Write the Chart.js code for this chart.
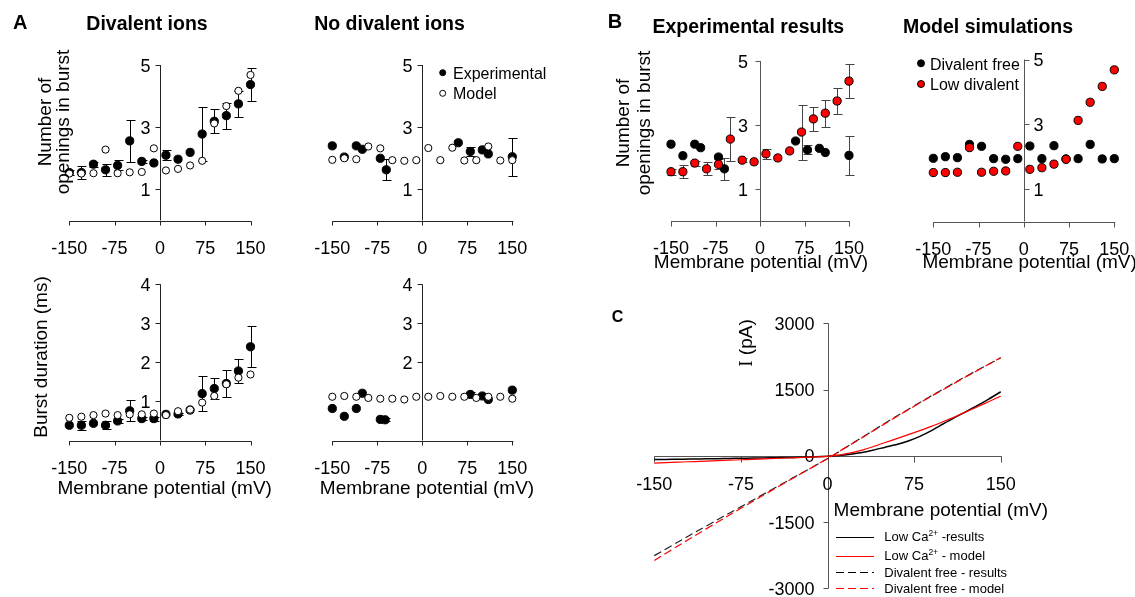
<!DOCTYPE html>
<html>
<head>
<meta charset="utf-8">
<script src="https://cdn.jsdelivr.net/npm/chart.js@4.4.1/dist/chart.umd.min.js"></script>
<style>
  body { margin: 0; background: #fff; }
  #wrap { position: relative; width: 1135px; height: 597px; overflow: hidden; }
  #wrap canvas { position: absolute; left: 0; top: 0; }
</style>
</head>
<body>
<div id="wrap">
  <canvas id="aOpen" width="1135" height="597"></canvas>
  <canvas id="aOpenFree" width="1135" height="597"></canvas>
  <canvas id="aBurst" width="1135" height="597"></canvas>
  <canvas id="aBurstFree" width="1135" height="597"></canvas>
  <canvas id="bExp" width="1135" height="597"></canvas>
  <canvas id="bModel" width="1135" height="597"></canvas>
  <canvas id="cIV" width="1135" height="597"></canvas>
</div>
<script>
// ---- data ----
const voltages = [-150, -130, -110, -90, -70, -50, -30, -10, 10, 30, 50, 70, 90, 110, 130, 150];
const voltTicks = [-150, -75, 0, 75, 150];
const openTicks = [1, 3, 5];
const burstTicks = [1, 2, 3, 4];
const burstTicksFree = [2, 3, 4];
const currentTicks = [-3000, -1500, 0, 1500, 3000];

// low divalent (divalent ions)
const lowDivOpenExp = [1.54, 1.54, 1.81, 1.63, 1.77, 2.56, 1.90, 1.85, 2.10, 1.97, 2.19, 2.78, 3.19, 3.37, 3.75, 4.37];
const lowDivOpenErr = [0.09, 0.2, 0.08, 0.2, 0.16, 0.68, 0.06, 0, 0.16, 0, 0, 0.86, 0.38, 0.42, 0.42, 0.54];
const lowDivOpenModel = [1.51, 1.51, 1.52, 2.28, 1.52, 1.55, 1.56, 2.32, 1.61, 1.66, 1.77, 1.92, 3.12, 3.68, 4.17, 4.68];
const lowDivBurstExp = [0.39, 0.39, 0.44, 0.39, 0.50, 0.76, 0.56, 0.56, 0.67, 0.68, 0.78, 1.20, 1.33, 1.46, 1.78, 2.40];
const lowDivBurstErr = [0, 0.12, 0, 0.1, 0.04, 0.27, 0.03, 0.05, 0, 0.03, 0, 0.45, 0.27, 0.34, 0.3, 0.52];
const lowDivBurstModel = [0.58, 0.61, 0.65, 0.69, 0.65, 0.67, 0.67, 0.69, 0.65, 0.75, 0.79, 0.97, 1.14, 1.44, 1.61, 1.69];

// divalent free (no divalent ions)
const freeVoltages = [-150, -130, -110, -100, -70, -60, 60, 80, 100, 110, 150];
const freeOpenExp = [2.40, 2.04, 2.40, 2.29, 2.00, 1.63, 2.50, 2.22, 2.27, 2.14, 2.05];
const freeOpenErr = [0, 0, 0, 0, 0, 0.34, 0, 0.14, 0, 0, 0.61];
const freeOpenModel = [1.95, 2.0, 1.97, 2.38, 2.32, 1.94, 1.92, 1.94, 2.33, 1.94, 2.34, 1.93, 1.94, 2.38, 1.93, 1.94];
const freeBurstVoltages = [-150, -130, -110, -100, -70, -62, 80, 100, 110, 150];
const freeBurstExp = [0.82, 0.62, 0.82, 1.21, 0.54, 0.53, 1.18, 1.14, 1.05, 1.29];
const freeBurstErr = [0, 0, 0, 0, 0, 0.04, 0.07, 0.05, 0, 0];
const freeBurstModel = [1.12, 1.14, 1.12, 1.09, 1.07, 1.07, 1.05, 1.12, 1.12, 1.14, 1.12, 1.12, 1.09, 1.12, 1.12, 1.07];

// I-V curves
const ivVoltages = [-150, -140, -130, -120, -110, -100, -90, -80, -70, -60, -50, -40, -30, -20, -10, 0,
  10, 20, 30, 40, 50, 60, 70, 80, 90, 100, 110, 120, 130, 140, 150];
const lowCaResults = [-85, -82, -78, -74, -70, -66, -62, -58, -54, -50, -46, -41, -36, -30, -22, -12,
  5, 35, 75, 130, 195, 255, 335, 440, 570, 720, 865, 1000, 1140, 1290, 1450];
const lowCaModel = [-165, -155, -145, -135, -125, -115, -105, -95, -85, -75, -65, -55, -45, -35, -25, -12,
  15, 65, 130, 210, 300, 390, 480, 570, 665, 770, 880, 995, 1110, 1230, 1350];
const ivCoarse = [-150, -120, -90, -60, -30, 0, 30, 60, 90, 120, 150];
const freeResults = [-2260, -1810, -1370, -935, -500, -65, 420, 900, 1360, 1800, 2220];
const freeModel = [-2370, -1890, -1420, -960, -510, -60, 410, 890, 1350, 1790, 2220];

// ---- drawing helpers ----
const W = 1135, H = 597;
const FONT = '"Liberation Sans", Arial, sans-serif';
const TITLE = 'bold 19.5px ' + FONT;
const LBL = '19px ' + FONT;
const TICK = '18px ' + FONT;
const crisp = v => Math.round(v) + 0.5;

function points(xs, ys) { return xs.map((v, i) => ({ x: v, y: ys[i] })); }

const filled = { pointRadius: 4.1, pointBackgroundColor: '#000', pointBorderColor: '#000', pointBorderWidth: 1 };
const hollow = { pointRadius: 3.6, pointBackgroundColor: '#fff', pointBorderColor: '#000', pointBorderWidth: 1 };
const redDot = { pointRadius: 4.1, pointBackgroundColor: '#ff0000', pointBorderColor: '#000', pointBorderWidth: 1 };

function dots(xs, ys, style, errs) {
  return Object.assign({ data: points(xs, ys), showLine: false, clip: false, errorBars: errs }, style);
}
function curve(xs, ys, color, dash, width) {
  return { data: points(xs, ys), showLine: true, pointRadius: 0, borderColor: color, borderWidth: width || 1,
    borderDash: dash || [], clip: false, tension: 0.2 };
}

function drawText(ctx, it) {
  ctx.save();
  ctx.translate(it.x, it.y);
  if (it.rot) ctx.rotate(-Math.PI / 2);
  const parts = it.parts || [{ t: it.t, font: it.font }];
  const widths = parts.map(p => { ctx.font = p.font; return ctx.measureText(p.t).width; });
  const total = widths.reduce((a, b) => a + b, 0);
  let cx = it.align === 'center' ? -total / 2 : 0;
  ctx.fillStyle = '#000';
  ctx.textAlign = 'left';
  ctx.textBaseline = 'alphabetic';
  parts.forEach((p, i) => { ctx.font = p.font; ctx.fillText(p.t, cx, p.dy || 0); cx += widths[i]; });
  ctx.restore();
}

function axesPlugin(o) {
  return {
    id: 'axes',
    beforeDatasetsDraw(chart) {
      const ctx = chart.ctx, sx = chart.scales.x, sy = chart.scales.y;
      const ax = crisp(sx.getPixelForValue(0));
      const ay = crisp(sy.getPixelForValue(o.xAt));
      const dir = o.right ? 1 : -1;
      ctx.save();
      ctx.strokeStyle = o.color;
      ctx.lineWidth = 1;
      ctx.beginPath();
      ctx.moveTo(sx.getPixelForValue(sx.min), ay);
      ctx.lineTo(sx.getPixelForValue(sx.max) + 1, ay);
      ctx.moveTo(ax, sy.getPixelForValue(sy.max));
      ctx.lineTo(ax, sy.getPixelForValue(sy.min));
      o.xTicks.forEach(v => {
        const px = crisp(sx.getPixelForValue(v));
        ctx.moveTo(px, ay); ctx.lineTo(px, ay + o.tick);
      });
      o.yTicks.forEach(v => {
        const py = crisp(sy.getPixelForValue(v));
        ctx.moveTo(ax, py); ctx.lineTo(ax + dir * 5, py);
      });
      ctx.stroke();
      ctx.fillStyle = '#000';
      ctx.font = TICK;
      ctx.textBaseline = 'alphabetic';
      ctx.textAlign = 'center';
      o.xTicks.forEach(v => ctx.fillText(String(v), sx.getPixelForValue(v), ay + o.xDy));
      ctx.textAlign = o.right ? 'left' : 'right';
      o.yTicks.forEach(v => ctx.fillText(String(v), ax + dir * o.yGap, sy.getPixelForValue(v) + 6.5));
      ctx.restore();
    }
  };
}

function errorPlugin(color) {
  return {
    id: 'errorBars',
    beforeDatasetsDraw(chart) {
      const ctx = chart.ctx, sx = chart.scales.x, sy = chart.scales.y;
      ctx.save();
      ctx.strokeStyle = color;
      ctx.lineWidth = 1;
      chart.data.datasets.forEach(ds => {
        if (!ds.errorBars) return;
        ds.data.forEach((p, i) => {
          const e = ds.errorBars[i];
          if (!e) return;
          const px = crisp(sx.getPixelForValue(p.x));
          const top = crisp(sy.getPixelForValue(p.y + e));
          const bot = crisp(sy.getPixelForValue(p.y - e));
          ctx.beginPath();
          ctx.moveTo(px, top); ctx.lineTo(px, bot);
          ctx.moveTo(px - 4, top); ctx.lineTo(px + 5, top);
          ctx.moveTo(px - 4, bot); ctx.lineTo(px + 5, bot);
          ctx.stroke();
        });
      });
      ctx.restore();
    }
  };
}

function notesPlugin(n) {
  return {
    id: 'notes',
    afterDraw(chart) {
      const ctx = chart.ctx;
      (n.markers || []).forEach(m => {
        ctx.save();
        ctx.beginPath();
        ctx.arc(m.x, m.y, m.r, 0, Math.PI * 2);
        ctx.fillStyle = m.fill;
        ctx.fill();
        ctx.strokeStyle = '#000';
        ctx.lineWidth = 1;
        ctx.stroke();
        ctx.restore();
      });
      (n.lines || []).forEach(l => {
        ctx.save();
        ctx.strokeStyle = l.color;
        ctx.lineWidth = 1;
        ctx.setLineDash(l.dash || []);
        ctx.beginPath();
        ctx.moveTo(l.x1, crisp(l.y));
        ctx.lineTo(l.x2, crisp(l.y));
        ctx.stroke();
        ctx.restore();
      });
      (n.texts || []).forEach(t => drawText(ctx, t));
    }
  };
}

function makePanel(id, area, xRange, yRange, datasets, axes, errColor, notes) {
  return new Chart(document.getElementById(id), {
    type: 'scatter',
    data: { datasets },
    options: {
      responsive: false,
      maintainAspectRatio: false,
      animation: false,
      events: [],
      layout: { autoPadding: false, padding: { left: area[0], top: area[1], right: W - area[2], bottom: H - area[3] } },
      scales: {
        x: { type: 'linear', display: false, min: xRange[0], max: xRange[1] },
        y: { type: 'linear', display: false, min: yRange[0], max: yRange[1] }
      },
      plugins: { legend: { display: false }, tooltip: { enabled: false } }
    },
    plugins: [axesPlugin(axes), errorPlugin(errColor), notesPlugin(notes)]
  });
}

const axA = { color: '#222', xAt: 0, tick: 4, xDy: 32, yGap: 10 };
const axB = { color: '#555', xAt: 0, tick: 5, xDy: 32, yGap: 12.5 };

// ---- panel A ----
makePanel('aOpen', [69.3, 65, 250.5, 220.5], [-150, 150], [0, 5], [
  dots(voltages, lowDivOpenModel, hollow),
  dots(voltages, lowDivOpenExp, filled, lowDivOpenErr)
], Object.assign({ xTicks: voltTicks, yTicks: openTicks }, axA), '#000', {
  texts: [
    { t: 'A', font: 'bold 20px ' + FONT, x: 13, y: 29 },
    { t: 'Divalent ions', font: TITLE, x: 147, y: 30, align: 'center' },
    { t: 'Number of', font: LBL, x: 50.5, y: 122, align: 'center', rot: true },
    { t: 'openings in burst', font: LBL, x: 68.5, y: 122, align: 'center', rot: true }
  ]
});

makePanel('aOpenFree', [332.3, 65, 512.3, 220.5], [-150, 150], [0, 5], [
  dots(voltages, freeOpenModel, hollow),
  dots(freeVoltages, freeOpenExp, filled, freeOpenErr)
], Object.assign({ xTicks: voltTicks, yTicks: openTicks }, axA), '#000', {
  markers: [
    { x: 442.7, y: 72.7, r: 3, fill: '#000' },
    { x: 442.7, y: 93.3, r: 3, fill: '#fff' }
  ],
  texts: [
    { t: 'No divalent ions', font: TITLE, x: 389.5, y: 30, align: 'center' },
    { t: 'Experimental', font: '16px ' + FONT, x: 453, y: 78.5 },
    { t: 'Model', font: '16px ' + FONT, x: 453, y: 99 }
  ]
});

makePanel('aBurst', [69.3, 284.3, 250.5, 440.5], [-150, 150], [0, 4], [
  dots(voltages, lowDivBurstModel, hollow),
  dots(voltages, lowDivBurstExp, filled, lowDivBurstErr)
], Object.assign({ xTicks: voltTicks, yTicks: burstTicks }, axA), '#000', {
  texts: [
    { t: 'Burst duration (ms)', font: LBL, x: 47, y: 357, align: 'center', rot: true },
    { t: 'Membrane potential (mV)', font: LBL, x: 164.7, y: 494.3, align: 'center' }
  ]
});

makePanel('aBurstFree', [332.3, 284.3, 512.3, 440.5], [-150, 150], [0, 4], [
  dots(voltages, freeBurstModel, hollow),
  dots(freeBurstVoltages, freeBurstExp, filled, freeBurstErr)
], Object.assign({ xTicks: voltTicks, yTicks: burstTicksFree }, axA), '#000', {
  texts: [
    { t: 'Membrane potential (mV)', font: LBL, x: 427, y: 494.3, align: 'center' }
  ]
});

// ---- panel B ----
makePanel('bExp', [671, 61, 849, 221], [-150, 150], [0, 5], [
  dots(voltages, lowDivOpenExp, redDot, lowDivOpenErr),
  dots(freeVoltages, freeOpenExp, filled, freeOpenErr)
], Object.assign({ xTicks: voltTicks, yTicks: openTicks }, axB), '#444', {
  texts: [
    { t: 'B', font: 'bold 20px ' + FONT, x: 607.7, y: 28.3 },
    { t: 'Experimental results', font: TITLE, x: 748.3, y: 33, align: 'center' },
    { t: 'Number of', font: LBL, x: 628.6, y: 123, align: 'center', rot: true },
    { t: 'openings in burst', font: LBL, x: 650.3, y: 123, align: 'center', rot: true },
    { t: 'Membrane potential (mV)', font: LBL, x: 761, y: 267.5, align: 'center' }
  ]
});

makePanel('bModel', [933.3, 59.5, 1114.3, 221.5], [-150, 150], [0, 5], [
  dots(voltages, lowDivOpenModel, redDot),
  dots(voltages, freeOpenModel, filled)
], Object.assign({ xTicks: voltTicks, yTicks: openTicks, right: true }, axB, { yGap: 9 }), '#444', {
  markers: [
    { x: 921, y: 63.3, r: 3.5, fill: '#000' },
    { x: 921, y: 84, r: 3.5, fill: '#ff0000' }
  ],
  texts: [
    { t: 'Model simulations', font: TITLE, x: 988, y: 33, align: 'center' },
    { t: 'Divalent free', font: '16px ' + FONT, x: 930, y: 69.5 },
    { t: 'Low divalent', font: '16px ' + FONT, x: 930, y: 90 },
    { t: 'Membrane potential (mV)', font: LBL, x: 1029.6, y: 267.5, align: 'center' }
  ]
});

// ---- panel C ----
const LEG = '13px ' + FONT;
const SUP = '8.5px ' + FONT;
makePanel('cIV', [654.3, 323.3, 1000.7, 588.3], [-150, 150], [-3000, 3000], [
  curve(ivVoltages, lowCaModel, '#ff0000', [], 1.2),
  curve(ivCoarse, freeModel, '#ff0000', [8, 4], 1.2),
  curve(ivVoltages, lowCaResults, '#000', [], 1.5),
  curve(ivCoarse, freeResults, '#222', [8, 4], 1.2)
], { color: '#555', xAt: 0, tick: 6, xDy: 33.3, yGap: 14, xTicks: voltTicks, yTicks: currentTicks }, '#444', {
  lines: [
    { x1: 836, x2: 874, y: 536.7, color: '#000' },
    { x1: 836, x2: 874, y: 555.7, color: '#ff0000' },
    { x1: 836, x2: 874, y: 572.3, color: '#000', dash: [8, 4] },
    { x1: 836, x2: 874, y: 588.3, color: '#ff0000', dash: [8, 4] }
  ],
  texts: [
    { t: 'C', font: 'bold 16px ' + FONT, x: 611.7, y: 321.7 },
    { parts: [{ t: 'I', font: '19px "Liberation Serif", serif' }, { t: ' (pA)', font: LBL }], x: 751.6, y: 343, align: 'center', rot: true },
    { t: 'Membrane potential (mV)', font: LBL, x: 940.8, y: 516, align: 'center' },
    { parts: [{ t: 'Low Ca', font: LEG }, { t: '2+', font: SUP, dy: -5 }, { t: ' -results', font: LEG }], x: 884.3, y: 541 },
    { parts: [{ t: 'Low Ca', font: LEG }, { t: '2+', font: SUP, dy: -5 }, { t: ' - model', font: LEG }], x: 884.3, y: 560 },
    { t: 'Divalent free - results', font: LEG, x: 884.3, y: 576.7 },
    { t: 'Divalent free - model', font: LEG, x: 884.3, y: 592.7 }
  ]
});
</script>
</body>
</html>
